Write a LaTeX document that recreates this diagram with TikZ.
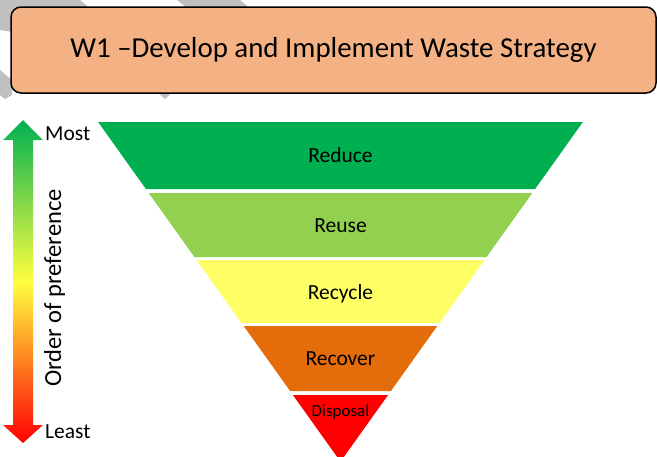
\documentclass[tikz,border=0pt]{standalone}
\usepackage{fontspec}
\setmainfont{Carlito}
\usetikzlibrary{calc}
\definecolor{peach}{RGB}{244,177,131}
\definecolor{reducegreen}{RGB}{0,176,80}
\definecolor{reusegreen}{RGB}{146,208,80}
\definecolor{recycleyellow}{RGB}{255,255,102}
\definecolor{recoverorange}{RGB}{228,108,10}
\definecolor{disposalred}{RGB}{255,0,0}
\definecolor{arrowyellow}{RGB}{255,255,64}
\definecolor{watermark}{RGB}{192,192,192}

\begin{document}
\begin{tikzpicture}[x=1pt,y=-1pt]
      \tikzstyle{stagetext}=[anchor=base,inner sep=0pt,font=\fontsize{21.5}{24}\selectfont]
      \tikzstyle{stage}=[draw=none]
      \useasboundingbox (0,0) rectangle (657,456);
      \clip (0,0) rectangle (657,456);
      \fill[watermark] (0,0) -- (80,0) -- (140,50) -- (60,40) -- (0,30) -- cycle;
      \fill[watermark] (155,90) -- (175,90) -- (165,99) -- cycle;
      \fill[watermark] (177,0) -- (240,0) -- (300,50) -- (240,50) -- cycle;
      \fill[watermark] (0,70) -- (12,80) -- (12,95) -- (5,99) -- (0,95) -- cycle;
      \node[draw=black,line width=1.5pt,rounded corners=10pt,fill=peach,minimum width=645pt,minimum height=86pt,inner sep=0pt,font=\fontsize{28.9}{32}\selectfont] (title) at (333.5,50) {W1 –Develop and Implement Waste Strategy};
      \fill[stage,reducegreen] (98.1,122) -- (582.9,122) -- (535.1,189) -- (145.9,189) -- cycle;
      \fill[stage,reusegreen] (148.7,193) -- (532.3,193) -- (486.6,257) -- (194.4,257) -- cycle;
      \fill[stage,recycleyellow] (196.5,260) -- (484.5,260) -- (439.5,323) -- (241.5,323) -- cycle;
      \fill[stage,recoverorange] (243.7,326) -- (437.3,326) -- (390.9,391) -- (290.1,391) -- cycle;
      \fill[stage,disposalred] (292.9,395) -- (388.1,395) -- (340.5,461.6) -- cycle;
      \node[stagetext] (s_1) at (340.5,162) {Reduce};
      \node[stagetext] (s_2) at (340.5,232) {Reuse};
      \node[stagetext] (s_3) at (340.5,299) {Recycle};
      \node[stagetext] (s_4) at (340.5,365.5) {Recover};
      \node[stagetext,font=\fontsize{17}{19}\selectfont] (s_5) at (340.5,416) {Disposal};
      \shade[top color=reducegreen,bottom color=disposalred,middle color=arrowyellow] (23,120) -- (43,140) -- (33,140) -- (33,425) -- (43,425) -- (23,443) -- (3,425) -- (13,425) -- (13,140) -- (3,140) -- cycle;
      \node[stagetext,anchor=base west] (most) at (45,140) {Most};
      \node[stagetext,anchor=base west] (least) at (45,438) {Least};
      \node[stagetext,rotate=90,font=\fontsize{24.5}{27}\selectfont] (order) at (61,288) {Order of preference};
    \end{tikzpicture}
\end{document}
